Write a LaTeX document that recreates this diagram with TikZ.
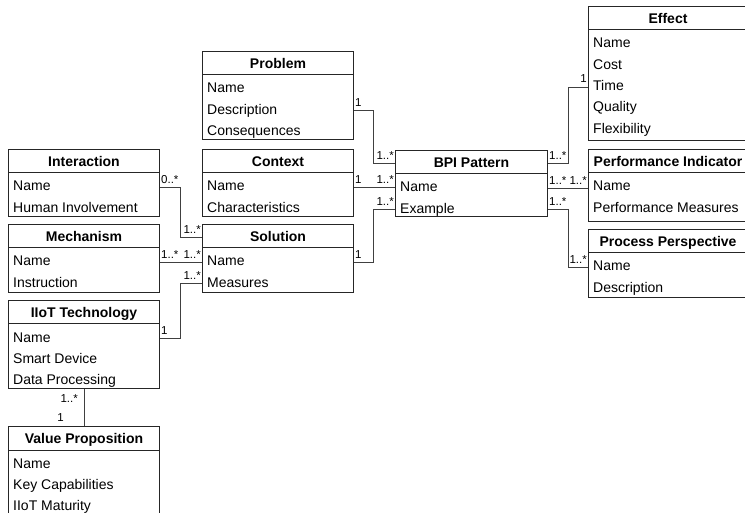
\documentclass[tikz,border=0pt]{standalone}
\usepackage{fontspec}
\setmainfont{Liberation Sans}
\usetikzlibrary{calc}
\tikzset{
  classbox/.style={draw=black!85, line width=1pt, rectangle, inner sep=0pt, fill=white},
  titletext/.style={font=\fontsize{14}{16}\selectfont\bfseries, inner sep=0pt, text height=10pt, text depth=3pt},
  rowtext/.style={font=\fontsize{14}{16}\selectfont, inner sep=0pt, anchor=west, text height=10pt, text depth=3pt},
  sepline/.style={draw=black!85, line width=1pt},
  conn/.style={draw=black!75, line width=1pt},
  mult/.style={font=\fontsize{11.5}{14}\selectfont, inner xsep=1pt, inner ysep=4pt},
}
\newcommand{\umlclass}[7]{%
  \node[classbox, minimum width=#4, minimum height=#5, anchor=north west] (#1) at (#2,#3) {};
  \node[titletext] (#1-t) at ($(#1.north)+(0,14)$) {#6};
  \draw[sepline] ($(#1.north west)+(0,24)$) -- ($(#1.north east)+(0,24)$);
  \foreach \r [count=\i] in {#7} {
    \pgfmathsetmacro\rowy{38.5+21.3*(\i-1)}
    \node[rowtext] (#1-r\i) at ($(#1.north west)+(5,\rowy)$) {\r};
  }
}
\begin{document}
\begin{tikzpicture}[x=1pt,y=-1pt]
\clip (0,0) rectangle (745,513);
\useasboundingbox (0,0) rectangle (745,513);

\umlclass{problem}{202}{51}{151}{88}{Problem}{Name,Description,Consequences}
\umlclass{interaction}{8}{149}{151}{67}{Interaction}{Name,Human Involvement}
\umlclass{context}{202}{149}{151}{67}{Context}{Name,Characteristics}
\umlclass{mechanism}{8}{224}{151}{68}{Mechanism}{Name,Instruction}
\umlclass{solution}{202}{224}{151}{68}{Solution}{Name,Measures}
\umlclass{iiot}{8}{300}{151}{88}{IIoT Technology}{Name,Smart Device,Data Processing}
\umlclass{vp}{8}{426}{151}{89}{Value Proposition}{Name,Key Capabilities,IIoT Maturity}
\umlclass{bpi}{395}{150}{152}{66}{BPI Pattern}{Name,Example}
\umlclass{effect}{588}{6}{159}{134}{Effect}{Name,Cost,Time,Quality,Flexibility}
\umlclass{pi}{588}{149}{159}{72}{Performance Indicator}{Name,Performance Measures}
\umlclass{pp}{588}{229}{159}{68}{Process Perspective}{Name,Description}

\coordinate (jl) at (180,0);
\coordinate (jm) at (373,0);
\coordinate (jr) at (568,0);

\draw[conn] (problem.east |- problem-r2) -| (jm |- bpi-t) -- (bpi.west |- bpi-t);
\draw[conn] (context.east |- context-r1) -- (bpi.west |- context-r1);
\draw[conn] (solution.east |- solution-r1) -| (jm |- bpi-r2) -- (bpi.west |- bpi-r2);
\draw[conn] (bpi.east |- bpi-t) -| (jr |- effect-r3) -- (effect.west |- effect-r3);
\draw[conn] (bpi.east |- bpi-r1) -- (pi.west |- bpi-r1);
\draw[conn] (bpi.east |- bpi-r2) -| (jr |- pp-r1) -- (pp.west |- pp-r1);
\draw[conn] (interaction.east |- interaction-r1) -| (jl |- solution-t) -- (solution.west |- solution-t);
\draw[conn] (mechanism.east |- mechanism-r1) -- (solution.west |- mechanism-r1);
\draw[conn] (iiot.east |- iiot-r1) -| (jl |- solution-r2) -- (solution.west |- solution-r2);
\draw[conn] (iiot.south) -- (vp.north);

\node[mult, anchor=south west] (m1) at (problem.east |- problem-r2) {1};
\node[mult, anchor=south east] (m2) at (bpi.west |- bpi-t) {1..*};
\node[mult, anchor=south west] (m3) at (context.east |- context-r1) {1};
\node[mult, anchor=south east] (m4) at (bpi.west |- context-r1) {1..*};
\node[mult, anchor=south west] (m5) at (solution.east |- solution-r1) {1};
\node[mult, anchor=south east] (m6) at (bpi.west |- bpi-r2) {1..*};
\node[mult, anchor=south west] (m7) at (bpi.east |- bpi-t) {1..*};
\node[mult, anchor=south east] (m8) at (effect.west |- effect-r3) {1};
\node[mult, anchor=south west] (m9) at (bpi.east |- bpi-r1) {1..*};
\node[mult, anchor=south east] (m10) at (pi.west |- bpi-r1) {1..*};
\node[mult, anchor=south west] (m11) at (bpi.east |- bpi-r2) {1..*};
\node[mult, anchor=south east] (m12) at (pp.west |- pp-r1) {1..*};
\node[mult, anchor=south west] (m13) at (interaction.east |- interaction-r1) {0..*};
\node[mult, anchor=south east] (m14) at (solution.west |- solution-t) {1..*};
\node[mult, anchor=south west] (m15) at (mechanism.east |- mechanism-r1) {1..*};
\node[mult, anchor=south east] (m16) at (solution.west |- mechanism-r1) {1..*};
\node[mult, anchor=south west] (m17) at (iiot.east |- iiot-r1) {1};
\node[mult, anchor=south east] (m18) at (solution.west |- solution-r2) {1..*};
\node[mult, anchor=north east] (m19) at ($(iiot.south)+(-5,1)$) {1..*};
\node[mult, anchor=south east] (m20) at ($(vp.north)+(-19,0)$) {1};
\end{tikzpicture}
\end{document}
